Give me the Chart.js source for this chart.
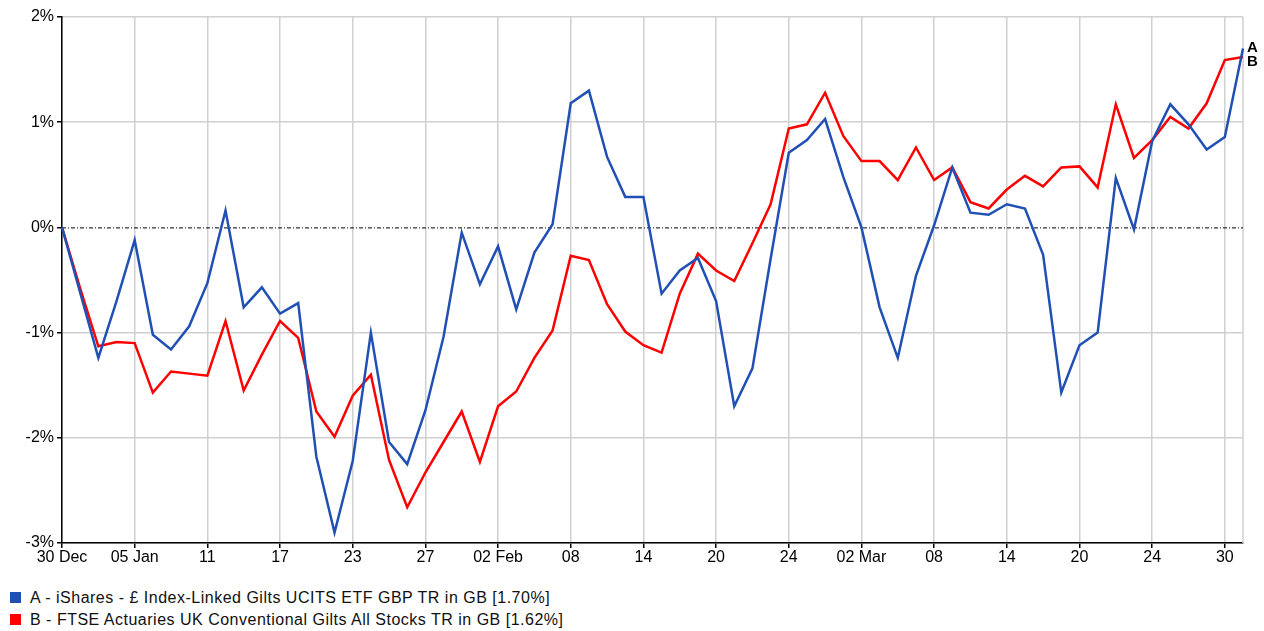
<!DOCTYPE html>
<html>
<head>
<meta charset="utf-8">
<script src="https://cdn.jsdelivr.net/npm/chart.js@4.4.1/dist/chart.umd.min.js"></script>
<style>
  body { margin: 0; background: #fff; font-family: 'Liberation Sans', Arial, sans-serif; }
  #wrap { position: absolute; left: 0; top: 0; width: 1264px; height: 575px; }
  #legend { position: absolute; left: 10px; top: 587px; font-size: 16px; letter-spacing: 0.5px; color: #111; }
  .item { height: 22px; line-height: 22px; white-space: nowrap; }
  .box { display: inline-block; width: 11px; height: 11px; margin-right: 9px; vertical-align: 0px; }
</style>
</head>
<body>
<div id="wrap"><canvas id="perfChart"></canvas></div>
<div id="legend">
  <div class="item"><span class="box" style="background:#2150b4"></span>A - iShares - £ Index-Linked Gilts UCITS ETF GBP TR in GB [1.70%]</div>
  <div class="item"><span class="box" style="background:#ff0000"></span>B - FTSE Actuaries UK Conventional Gilts All Stocks TR in GB [1.62%]</div>
</div>
<script>
// tick labels shown every 4th data point
const tickLabels = ['30 Dec', '05 Jan', '11', '17', '23', '27', '02 Feb', '08', '14',
  '20', '24', '02 Mar', '08', '14', '20', '24', '30'];

// cumulative % change (66 points)
const seriesA = [0, -0.62, -1.24, -0.70, -0.12, -1.02, -1.16, -0.94, -0.53, 0.16,
  -0.76, -0.57, -0.82, -0.72, -2.18, -2.90, -2.22, -1.00, -2.04, -2.25,
  -1.74, -1.04, -0.05, -0.54, -0.18, -0.78, -0.24, 0.03, 1.18, 1.30,
  0.67, 0.29, 0.29, -0.63, -0.41, -0.29, -0.70, -1.70, -1.34, -0.30,
  0.71, 0.83, 1.03, 0.48, 0.00, -0.76, -1.24, -0.46, 0.02, 0.57,
  0.14, 0.12, 0.22, 0.18, -0.26, -1.57, -1.12, -1.00, 0.47, -0.02,
  0.82, 1.17, 0.98, 0.74, 0.86, 1.70];

const seriesB = [0, -0.58, -1.13, -1.09, -1.10, -1.57, -1.37, -1.39, -1.41, -0.89,
  -1.55, -1.21, -0.89, -1.05, -1.75, -1.99, -1.60, -1.40, -2.21, -2.66,
  -2.33, -2.04, -1.75, -2.23, -1.70, -1.56, -1.24, -0.98, -0.27, -0.31,
  -0.73, -0.99, -1.12, -1.19, -0.63, -0.25, -0.41, -0.51, -0.15, 0.22,
  0.94, 0.98, 1.28, 0.87, 0.63, 0.63, 0.45, 0.76, 0.45, 0.57,
  0.24, 0.18, 0.36, 0.49, 0.39, 0.57, 0.58, 0.38, 1.17, 0.66,
  0.83, 1.05, 0.94, 1.18, 1.59, 1.62];

const pointIdx = seriesA.map((v, i) => i);

// dash-dot zero line, right border and A/B end labels
const extras = {
  id: 'extras',
  beforeDatasetsDraw(chart) {
    const { ctx, chartArea, scales } = chart;
    const y0 = scales.y.getPixelForValue(0);
    ctx.save();
    ctx.strokeStyle = '#d0d0d0';
    ctx.lineWidth = 1.5;
    ctx.beginPath();
    ctx.moveTo(chartArea.right, chartArea.top);
    ctx.lineTo(chartArea.right, chartArea.bottom);
    ctx.stroke();
    ctx.strokeStyle = '#000';
    ctx.lineWidth = 1;
    ctx.setLineDash([4, 2, 1, 2]);
    ctx.beginPath();
    ctx.moveTo(chartArea.left, y0 + 0.5);
    ctx.lineTo(chartArea.right, y0 + 0.5);
    ctx.stroke();
    ctx.restore();
  },
  afterDatasetsDraw(chart) {
    const { ctx, scales } = chart;
    const last = seriesA.length - 1;
    const x = scales.x.getPixelForValue(last) + 4;
    const yA = scales.y.getPixelForValue(seriesA[last]);
    ctx.save();
    ctx.fillStyle = '#000';
    ctx.font = 'bold 15px "Liberation Sans", Arial, sans-serif';
    ctx.textBaseline = 'middle';
    ctx.fillText('A', x, yA - 1);
    ctx.fillText('B', x, yA + 13);
    ctx.restore();
  }
};

const ctx = document.getElementById('perfChart').getContext('2d');
const perfChart = new Chart(ctx, {
  type: 'line',
  data: {
    labels: pointIdx,
    datasets: [{
      label: 'A',
      data: seriesA,
      borderColor: '#2150b4',
      borderWidth: 2.5,
      pointRadius: 0,
      tension: 0
    }, {
      label: 'B',
      data: seriesB,
      borderColor: '#ff0000',
      borderWidth: 2.5,
      pointRadius: 0,
      tension: 0
    }]
  },
  options: {
    responsive: true,
    maintainAspectRatio: false,
    animation: false,
    devicePixelRatio: 1,
    layout: { padding: { top: 17, right: 21, left: 0, bottom: 0 } },
    scales: {
      x: {
        offset: false,
        afterFit: function(scale) { scale.height = 32; },
        border: { color: '#000', width: 1.5 },
        grid: {
          color: c => (c.index % 4 === 0 ? '#d0d0d0' : 'transparent'),
          tickColor: c => (c.index % 4 === 0 ? '#000' : 'transparent'),
          lineWidth: 1.5,
          tickLength: 5
        },
        ticks: {
          autoSkip: false,
          maxRotation: 0,
          padding: 0,
          color: '#000',
          font: { family: "'Liberation Sans', Arial, sans-serif", size: 16 },
          callback: function(value, index) {
            return index % 4 === 0 ? tickLabels[index / 4] : '';
          }
        }
      },
      y: {
        min: -3,
        max: 2,
        afterFit: function(scale) { scale.width = 62; },
        border: { color: '#000', width: 1.5 },
        grid: {
          color: c => (c.tick.value === 0 ? 'transparent' : '#d0d0d0'),
          tickColor: '#000',
          lineWidth: 1.5,
          tickLength: 5
        },
        ticks: {
          stepSize: 1,
          padding: 3,
          color: '#000',
          font: { family: "'Liberation Sans', Arial, sans-serif", size: 16 },
          callback: function(value) {
            return value + '%';
          }
        }
      }
    },
    plugins: {
      legend: { display: false },
      tooltip: { enabled: false }
    }
  },
  plugins: [extras]
});
</script>
</body>
</html>
